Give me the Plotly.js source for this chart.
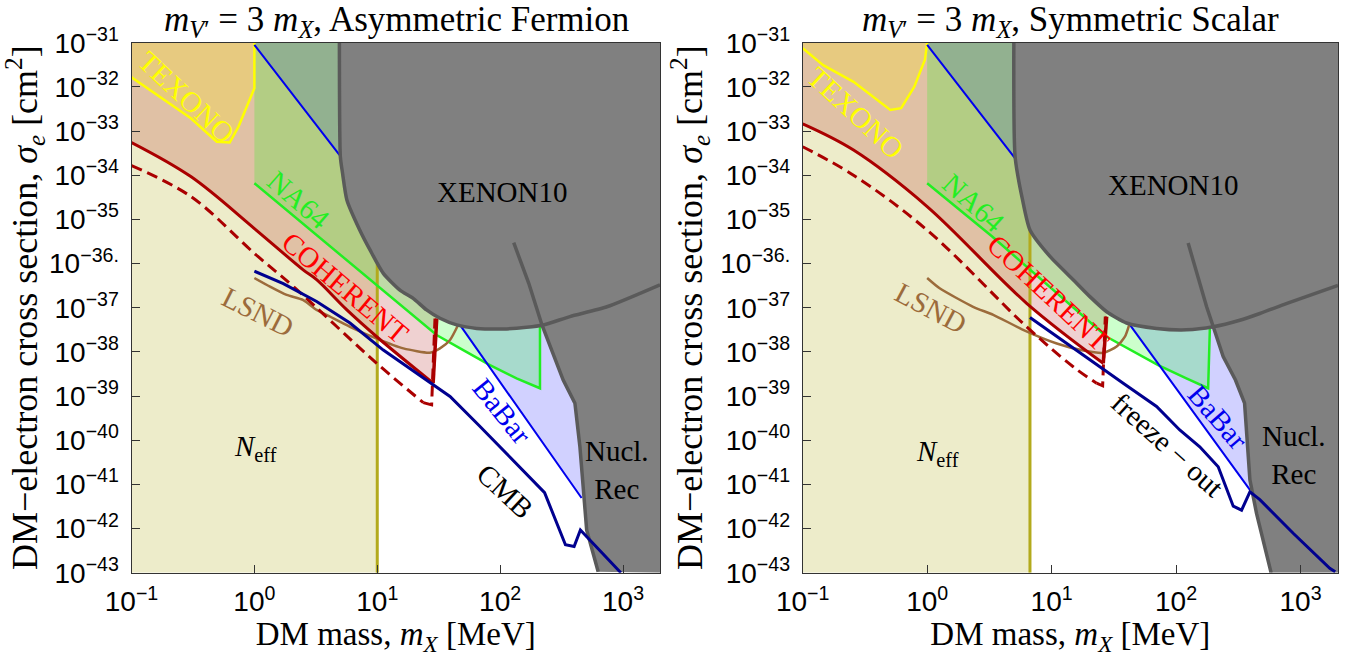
<!DOCTYPE html>
<html><head><meta charset="utf-8">
<script src="https://cdn.plot.ly/plotly-3.0.1.min.js"></script>
<style>html,body{margin:0;padding:0;background:#fff}</style>
</head><body><div id="plot" style="width:1352px;height:657px"></div>
<script>
// axis ranges
const X_MIN = 0.1, X_MAX = 2000, Y_MIN = 1e-43, Y_MAX = 1e-31;

// ---------- Left panel: Asymmetric Fermion ----------
const L_neffMass = 10;
const L_texX = [0.1, 0.187, 0.304, 0.494, 0.63, 0.743, 0.908, 1.0, 1.0];
const L_texY = [1.65e-32, 5.0e-33, 1.94e-33, 5.74e-34, 5.5e-34, 1.26e-33, 5.0e-33, 9.3e-33, 1e-31];
const L_cohX = [0.1, 0.304, 1.0, 2.51, 3.21, 5.66, 9.9, 28.5, 30.5];
const L_cohY = [5.5e-34, 9.3e-35, 6.2e-36, 7.1e-37, 4.3e-37, 8.9e-38, 2.2e-38, 1.95e-39, 5.7e-38];
const L_dashX = [0.1, 0.304, 1.0, 2.08, 9.9, 23.7, 27.7, 29.5];
const L_dashY = [1.65e-34, 3.3e-35, 1.7e-36, 3.0e-37, 5.5e-39, 7.1e-40, 6.3e-40, 5.7e-38];
const L_naX = [1.0, 9.9, 30.4, 50.1, 82.6, 136, 211, 211];
const L_naY = [6.6e-35, 3.2e-37, 2.4e-38, 1.1e-38, 5.0e-39, 2.5e-39, 1.5e-39, 3.7e-38];
const L_bbX = [1.0, 4.92, 47.1, 460];
const L_bbY = [8.9e-32, 2.9e-34, 4.07e-38, 4.9e-42];
const L_lsndX = [1.0, 1.34, 1.83, 2.5, 3.21, 3.87, 6.0, 9.9, 16.3, 26.8, 32.4, 39.1, 45.6];
const L_lsndY = [4.7e-37, 3.0e-37, 1.95e-37, 1.49e-37, 8.9e-38, 6.9e-38, 3.7e-38, 2.0e-38, 1.2e-38, 9.6e-39, 1.2e-38, 1.86e-38, 4.1e-38];
const L_cmbX = [1.0, 1.72, 3.21, 6.0, 11.2, 20.9, 39.1, 68, 126, 230, 340, 400, 450, 960];
const L_cmbY = [6.7e-37, 3.5e-37, 1.38e-37, 4.5e-38, 1.1e-38, 3.3e-39, 9.8e-40, 2.1e-40, 3.6e-41, 6.5e-42, 4.3e-43, 3.9e-43, 9.3e-43, 1.0e-43];
const L_xeX = [4.92, 5.01, 5.22, 5.66, 7.2, 8.73, 11.2, 15.3, 19.6, 25.2, 32.4, 44.3, 64.4, 106, 164, 224, 370, 740, 2000];
const L_xeY = [1e-31, 2.6e-34, 1.1e-34, 2.75e-35, 5.75e-36, 2.03e-36, 6.0e-37, 2.5e-37, 1.63e-37, 8.9e-38, 5.75e-38, 4.07e-38, 3.4e-38, 3.3e-38, 3.6e-38, 4.07e-38, 6.3e-38, 1.05e-37, 3.3e-37];
const L_nrX = [129, 171, 219, 326, 406, 446, 506, 628];
const L_nrY = [2.96e-36, 3.57e-37, 4.07e-38, 2.3e-39, 6.9e-40, 7.1e-41, 9.3e-43, 1.05e-43];

// ---------- Right panel: Symmetric Scalar ----------
const R_neffMass = 6.7;
const R_texX = [0.1, 0.146, 0.256, 0.506, 0.618, 0.787, 0.96, 1.0];
const R_texY = [7.5e-32, 3.1e-32, 1.3e-32, 3.0e-33, 3.3e-33, 1.0e-32, 4.1e-32, 1e-31];
const R_cohX = [0.1, 0.256, 1.0, 6.3, 26.0, 27.7];
const R_cohY = [1.45e-33, 3.7e-34, 1.95e-35, 1.26e-37, 5.5e-39, 6.3e-38];
const R_dashX = [0.1, 0.256, 1.0, 6.3, 14.9, 23.0, 25.7, 27.0];
const R_dashY = [4.4e-34, 1.0e-34, 5.7e-36, 3.7e-38, 4.6e-39, 1.95e-39, 1.7e-39, 6.3e-38];
const R_naX = [1.0, 3.33, 27.7, 71.8, 121, 181, 187];
const R_naY = [6.6e-35, 4.1e-36, 2.2e-38, 5.0e-39, 2.5e-39, 1.5e-39, 3.7e-38];
const R_bbX = [1.0, 5.09, 42.6, 392];
const R_bbY = [8.9e-32, 2.4e-34, 4.1e-38, 7.5e-42];
const R_lsndX = [1.0, 1.26, 2.34, 3.4, 5.9, 11, 18, 26, 33.3, 38.8, 42];
const R_lsndY = [4.7e-37, 2.75e-37, 1.05e-37, 6.9e-38, 3.16e-38, 1.55e-38, 1.07e-38, 9.5e-39, 1.32e-38, 2.2e-38, 4.1e-38];
const R_foX = [6.7, 11.0, 20.3, 37.6, 69.7, 107, 155, 218, 288, 336, 392, 471, 641, 873, 1718, 1900];
const R_foY = [6.0e-38, 2.2e-38, 6.6e-39, 1.95e-39, 5.8e-40, 1.7e-40, 7.1e-41, 2.5e-41, 3.2e-42, 2.6e-42, 6.8e-42, 4.5e-42, 1.86e-42, 7.8e-43, 1.26e-43, 1.05e-43];
const R_xeX = [4.97, 5.09, 5.84, 6.7, 9.7, 14.9, 20.3, 27.7, 40, 69.7, 121, 199, 325, 471, 778, 2000];
const R_xeY = [1e-31, 2.6e-34, 2.75e-35, 5.75e-36, 1.45e-36, 4.3e-37, 1.78e-37, 8.1e-38, 4.5e-38, 3.4e-38, 3.16e-38, 3.7e-38, 5.2e-38, 7.4e-38, 1.26e-37, 3.2e-37];
const R_nrX = [125, 176, 239, 300, 355, 392, 443, 580];
const R_nrY = [2.9e-36, 1.05e-37, 7.8e-39, 2.3e-39, 6.9e-40, 1.26e-41, 2.2e-42, 1e-43];

// tick labels
const xTickVals = [0.1, 1, 10, 100, 1000];
const xTickText = ['10<sup>−1</sup>', '10<sup>0</sup>', '10<sup>1</sup>', '10<sup>2</sup>', '10<sup>3</sup>'];
const yTickVals = [1e-31, 1e-32, 1e-33, 1e-34, 1e-35, 1e-36, 1e-37, 1e-38, 1e-39, 1e-40, 1e-41, 1e-42, 1e-43];
const yTickText = ['10<sup>−31</sup>', '10<sup>−32</sup>', '10<sup>−33</sup>', '10<sup>−34</sup>', '10<sup>−35</sup>', '10<sup>−36.</sup>',
  '10<sup>−37</sup>', '10<sup>−38</sup>', '10<sup>−39</sup>', '10<sup>−40</sup>', '10<sup>−41</sup>', '10<sup>−42</sup>', '10<sup>−43</sup>'];

const C = {
  neffFill: '#edecca', neffLine: '#b3aa1c',
  cohFill: 'rgba(168,0,0,0.18)', cohLine: '#aa0000',
  texFill: 'rgba(255,235,0,0.22)', texLine: '#ffff00',
  naFill: 'rgba(0,255,0,0.2)', naLine: '#22ee22',
  bbFill: 'rgba(0,0,255,0.18)', bbLine: '#0000ee',
  lsnd: '#9c6b3b', xe: '#808080', xeLine: '#5a5a5a', cmb: '#00008f'
};

function last(a) { return a[a.length - 1]; }

function panel(P, xa, ya) {
  const base = {xaxis: xa, yaxis: ya, mode: 'lines', hoverinfo: 'skip', showlegend: false};
  const fill = (x, y, color) => Object.assign({}, base, {x, y, fill: 'toself', fillcolor: color, line: {width: 0, color: 'rgba(0,0,0,0)'}});
  const line = (x, y, color, width, dash, smooth) => Object.assign({}, base, {x, y,
    line: Object.assign({color, width, dash: dash || 'solid'}, smooth ? {shape: 'spline', smoothing: smooth} : {})});
  const nC = P.cohX.length, nD = P.dashX.length;
  const DASH = '11px,6px';
  return [
    fill([X_MIN, P.neff, P.neff, X_MIN], [Y_MIN, Y_MIN, Y_MAX, Y_MAX], C.neffFill),
    fill([X_MIN].concat(P.cohX, [last(P.cohX)]), [Y_MAX].concat(P.cohY, [Y_MAX]), C.cohFill),
    fill([X_MIN].concat(P.texX), [Y_MAX].concat(P.texY), C.texFill),
    fill([P.bbX[0]].concat(P.bbX, [X_MAX, X_MAX]), [Y_MAX].concat(P.bbY, [last(P.bbY), Y_MAX]), C.bbFill),
    fill([P.naX[0]].concat(P.naX, [last(P.naX)]), [Y_MAX].concat(P.naY, [Y_MAX]), C.naFill),
    line([P.neff, P.neff], [Y_MIN, Y_MAX], C.neffLine, 3),
    line(P.texX, P.texY, C.texLine, 2.5),
    line(P.naX, P.naY, C.naLine, 2.5),
    line(P.bbX, P.bbY, C.bbLine, 2),
    line(P.lsndX, P.lsndY, C.lsnd, 2.5, null, 0.6),
    line(P.dashX.slice(0, nD - 2), P.dashY.slice(0, nD - 2), C.cohLine, 3, DASH, 1),
    line(P.dashX.slice(nD - 3), P.dashY.slice(nD - 3), C.cohLine, 3, DASH),
    line(P.cohX.slice(0, nC - 1), P.cohY.slice(0, nC - 1), C.cohLine, 3, null, 1),
    line(P.cohX.slice(nC - 2), P.cohY.slice(nC - 2), C.cohLine, 3.5),
    fill(P.xeX.concat([X_MAX]), P.xeY.concat([Y_MAX]), C.xe),
    fill(P.nrX.concat([X_MAX, X_MAX]), P.nrY.concat([Y_MIN, P.nrY[0]]), C.xe),
    line(P.xeX, P.xeY, C.xeLine, 3.5, null, 0.6),
    line(P.nrX, P.nrY, C.xeLine, 3.5),
    line(P.cmbX, P.cmbY, C.cmb, 3)
  ];
}

const data = [].concat(
  panel({neff: L_neffMass, texX: L_texX, texY: L_texY, cohX: L_cohX, cohY: L_cohY, dashX: L_dashX, dashY: L_dashY,
         naX: L_naX, naY: L_naY, bbX: L_bbX, bbY: L_bbY, lsndX: L_lsndX, lsndY: L_lsndY, cmbX: L_cmbX, cmbY: L_cmbY,
         xeX: L_xeX, xeY: L_xeY, nrX: L_nrX, nrY: L_nrY}, 'x', 'y'),
  panel({neff: R_neffMass, texX: R_texX, texY: R_texY, cohX: R_cohX, cohY: R_cohY, dashX: R_dashX, dashY: R_dashY,
         naX: R_naX, naY: R_naY, bbX: R_bbX, bbY: R_bbY, lsndX: R_lsndX, lsndY: R_lsndY, cmbX: R_foX, cmbY: R_foY,
         xeX: R_xeX, xeY: R_xeY, nrX: R_nrX, nrY: R_nrY}, 'x2', 'y2')
);

const SERIF = 'Liberation Serif, Times New Roman, serif';
const TICKFONT = {family: 'Liberation Sans Narrow, Arial Narrow, Liberation Sans, Arial, sans-serif', size: 28, color: '#000'};

function xAxis(domain, anchor) {
  return {type: 'log', range: [Math.log10(X_MIN), Math.log10(X_MAX)], domain, anchor,
    showgrid: false, zeroline: false, showline: true, mirror: true, linecolor: '#333', linewidth: 1,
    ticks: 'inside', ticklen: 8, tickcolor: '#333', tickvals: xTickVals, ticktext: xTickText,
    tickfont: TICKFONT, ticklabelstandoff: 4,
    title: {text: 'DM mass, <i>m</i><sub><i>X</i></sub> [MeV]', font: {family: SERIF, size: 33, color: '#000'}, standoff: 8}};
}
function yAxis(domain, anchor) {
  return {type: 'log', range: [-43, -31], domain, anchor,
    showgrid: false, zeroline: false, showline: true, mirror: true, linecolor: '#333', linewidth: 1,
    ticks: 'inside', ticklen: 8, tickcolor: '#333', tickvals: yTickVals, ticktext: yTickText,
    tickfont: TICKFONT, ticklabelstandoff: 6,
    title: {text: 'DM−electron cross section, <i>σ</i><sub><i>e</i></sub> [cm<sup>2</sup>]', font: {family: SERIF, size: 36, color: '#000'}, standoff: 6}};
}

const yDom = [1 - 572.7 / 657, 1 - 42.7 / 657];

function lab(xref, yref, x, y, text, color, angle) {
  return {xref, yref, x, y, text, showarrow: false, textangle: angle || 0,
    font: {family: SERIF, size: 29, color: color || '#000'}, xanchor: 'center', yanchor: 'middle'};
}

const titleFont = {family: SERIF, size: 35, color: '#000'};
const annotations = [
  {xref: 'paper', yref: 'paper', x: 396 / 1352, y: 1 - 21 / 657, showarrow: false, xanchor: 'center', yanchor: 'middle',
   text: '<i>m</i><sub><i>V</i>′</sub> = 3 <i>m</i><sub><i>X</i></sub>, Asymmetric Fermion', font: titleFont},
  {xref: 'paper', yref: 'paper', x: 1070 / 1352, y: 1 - 21 / 657, showarrow: false, xanchor: 'center', yanchor: 'middle',
   text: '<i>m</i><sub><i>V</i>′</sub> = 3 <i>m</i><sub><i>X</i></sub>, Symmetric Scalar', font: titleFont},
  lab('x', 'y', -0.5525, -32.22, 'TEXONO', '#ffff00', 43),
  lab('x', 'y', 0.363, -34.56, 'NA64', '#22ee22', 41),
  lab('x', 'y', 0.745, -36.55, 'COHERENT', '#ff0000', 40),
  lab('x', 'y', 0.029, -37.10, 'LSND', C.lsnd, 27),
  lab('x', 'y', 2.023, -34.38, 'XENON10', '#000', 0),
  lab('x', 'y', 2.015, -39.34, 'BaBar', '#0000ee', 51),
  lab('x', 'y', 2.039, -41.15, 'CMB', '#000', 43),
  lab('x', 'y', 2.95, -40.67, 'Nucl.<br>Rec', '#000', 0),
  lab('x', 'y', 0.013, -40.18, '<i>N</i><sub>eff</sub>', '#000', 0),
  lab('x2', 'y2', -0.572, -32.59, 'TEXONO', '#ffff00', 43),
  lab('x2', 'y2', 0.376, -34.63, 'NA64', '#22ee22', 42),
  lab('x2', 'y2', 0.978, -36.67, 'COHERENT', '#ff0000', 43),
  lab('x2', 'y2', 0.031, -37.01, 'LSND', C.lsnd, 28),
  lab('x2', 'y2', 1.983, -34.22, 'XENON10', '#000', 0),
  lab('x2', 'y2', 2.337, -39.47, 'BaBar', '#0000ee', 49),
  lab('x2', 'y2', 1.934, -40.11, 'freeze − out', '#000', 42),
  lab('x2', 'y2', 2.947, -40.34, 'Nucl.<br>Rec', '#000', 0),
  lab('x2', 'y2', 0.087, -40.29, '<i>N</i><sub>eff</sub>', '#000', 0)
];

const layout = {
  width: 1352, height: 657, margin: {l: 0, r: 0, t: 0, b: 0},
  paper_bgcolor: '#fff', plot_bgcolor: '#fff', showlegend: false,
  xaxis: xAxis([131.5 / 1352, 660 / 1352], 'y'),
  yaxis: yAxis(yDom, 'x'),
  xaxis2: xAxis([802.7 / 1352, 1338 / 1352], 'y2'),
  yaxis2: yAxis(yDom, 'x2'),
  annotations
};

Plotly.newPlot('plot', data, layout, {staticPlot: true, displayModeBar: false});
</script>
</body></html>
